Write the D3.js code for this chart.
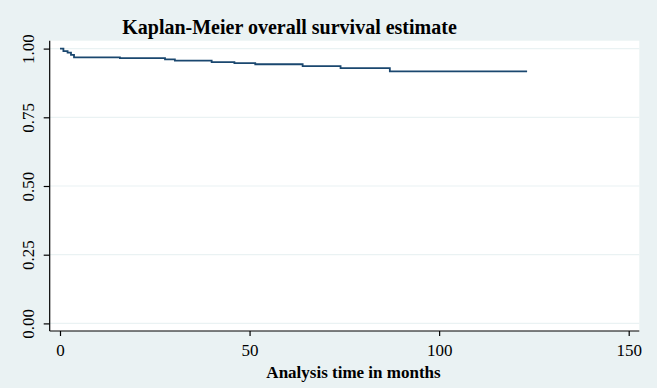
<!DOCTYPE html>
<html>
<head>
<meta charset="utf-8">
<script src="https://cdn.jsdelivr.net/npm/d3@7"></script>
<style>
  html, body { margin: 0; padding: 0; background: #eaf2f3; }
  svg { display: block; }
  text { font-family: "Liberation Serif", "Times New Roman", serif; fill: #000; }
</style>
</head>
<body>
<svg id="chart" width="657" height="388"></svg>
<script>
// Kaplan-Meier step data: time (months) and survival estimate
const times    = [0, 0.9, 2.0, 2.9, 3.7, 15.8, 27.7, 30.3, 40.0, 46.0, 51.5, 64.0, 74.0, 87.0, 123.2];
const survival = [1.000, 0.991, 0.985, 0.977, 0.968, 0.965, 0.961, 0.956, 0.951, 0.947, 0.943, 0.936, 0.929, 0.917, 0.917];
const xTicks = [0, 50, 100, 150];
const yTicks = [0, 0.25, 0.5, 0.75, 1.0];
const titleText = "Kaplan-Meier overall survival estimate";
const xTitle = "Analysis time in months";

const svg = d3.select("#chart");
const W = 657, H = 388;
const plot = { left: 49.7, right: 639.3, top: 40.7, bottom: 331 };

svg.append("rect").attr("width", W).attr("height", H).attr("fill", "#eaf2f3");
svg.append("rect")
  .attr("x", plot.left).attr("y", plot.top)
  .attr("width", plot.right - plot.left).attr("height", plot.bottom - plot.top)
  .attr("fill", "#ffffff");

const x = d3.scaleLinear().domain([0, 150]).range([60, 628.7]);
const y = d3.scaleLinear().domain([0, 1]).range([323.4, 48.6]);

// gridlines
svg.append("g").selectAll("line").data(yTicks).join("line")
  .attr("x1", plot.left).attr("x2", plot.right)
  .attr("y1", d => y(d)).attr("y2", d => y(d))
  .attr("stroke", "#eaf2f3").attr("stroke-width", 1.2);

// curve
const pts = times.map((t, i) => [t, survival[i]]);
const line = d3.line().x(d => x(d[0])).y(d => y(d[1])).curve(d3.curveStepAfter);
svg.append("path").datum(pts)
  .attr("d", line)
  .attr("fill", "none")
  .attr("stroke", "#1a476f")
  .attr("stroke-width", 1.8);

// y axis
const yAxis = d3.axisLeft(y).tickValues(yTicks).tickFormat(d3.format(".2f")).tickSize(6).tickSizeOuter(0);
const gy = svg.append("g").attr("transform", `translate(${plot.left},0)`).call(yAxis);
gy.select(".domain").attr("d", `M0,${plot.top}V${plot.bottom}`).attr("stroke", "#000").attr("stroke-width", 1.2);
gy.selectAll(".tick line").attr("stroke", "#000").attr("stroke-width", 1.2);
gy.selectAll(".tick text")
  .attr("font-family", "Liberation Serif, serif")
  .attr("font-size", 17)
  .attr("fill", "#000")
  .attr("x", null).attr("dy", null)
  .attr("text-anchor", "middle")
  .attr("transform", "translate(-16,0) rotate(-90)");

// x axis
const xAxis = d3.axisBottom(x).tickValues(xTicks).tickFormat(d3.format("d")).tickSize(5).tickSizeOuter(0);
const gx = svg.append("g").attr("transform", `translate(0,${plot.bottom})`).call(xAxis);
gx.select(".domain").attr("d", `M${plot.left},0H${plot.right}`).attr("stroke", "#000").attr("stroke-width", 1.2);
gx.selectAll(".tick line").attr("stroke", "#000").attr("stroke-width", 1.2);
gx.selectAll(".tick text")
  .attr("font-family", "Liberation Serif, serif")
  .attr("font-size", 17)
  .attr("fill", "#000")
  .attr("y", 25).attr("dy", null);

// titles
svg.append("text").attr("x", 289.5).attr("y", 34)
  .attr("text-anchor", "middle").attr("font-size", 20).attr("font-weight", "bold")
  .text(titleText);
svg.append("text").attr("x", 353.5).attr("y", 378)
  .attr("text-anchor", "middle").attr("font-size", 17).attr("font-weight", "bold")
  .text(xTitle);
</script>
</body>
</html>
